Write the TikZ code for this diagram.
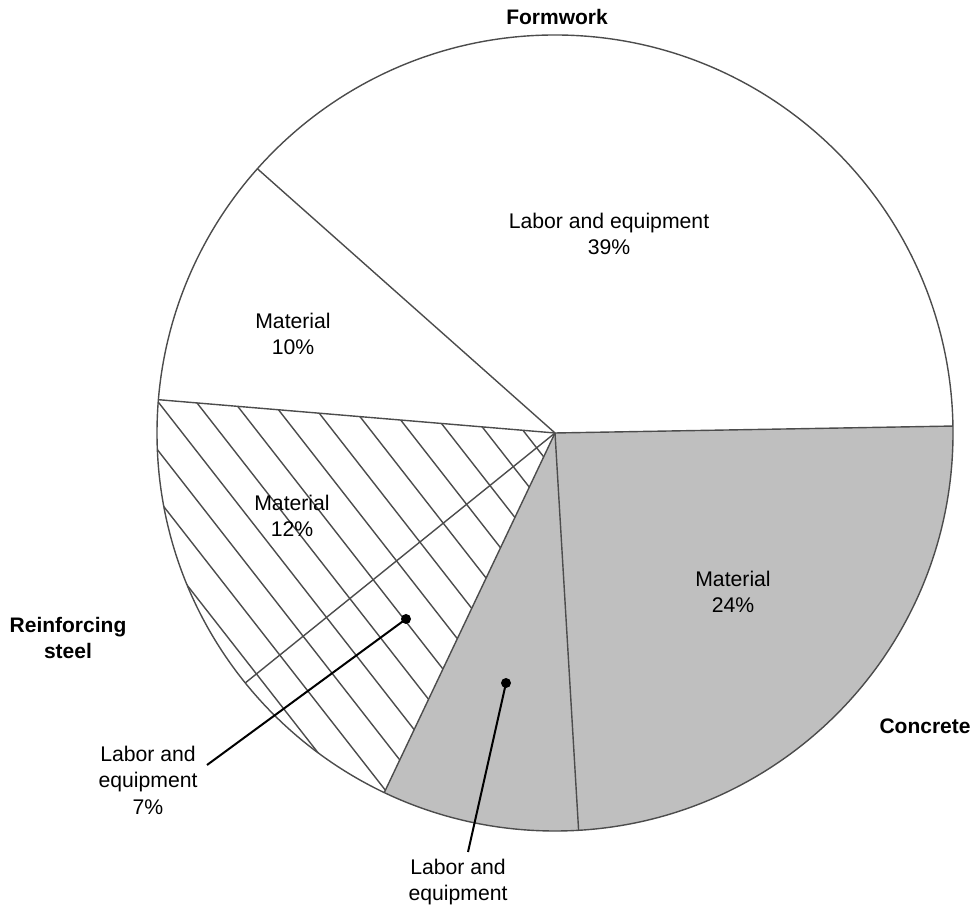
\documentclass[tikz,border=0pt]{standalone}
\usepackage{fontspec}
\setmainfont{Liberation Sans}
\begin{document}
\begin{tikzpicture}[x=0.5pt,y=0.5pt,
        rim/.style={draw=black!70, line width=0.7pt},
        hatchline/.style={draw=black!70, line width=0.7pt},
        slicetext/.style={align=center, font=\fontsize{10.6}{13.3}\selectfont},
        groupname/.style={align=center, font=\fontsize{10.5}{13.3}\selectfont\bfseries},
        leader/.style={draw=black, line width=1pt},
        tipdot/.style={circle, fill=black, inner sep=0pt, minimum size=5pt}]
    \useasboundingbox (0,0) rectangle (977,908);
    \coordinate (centre) at (555,475);
    % concrete slices
    \fill[gray!50] (centre) -- +(244.6:199pt) arc[start angle=244.6, end angle=361, radius=199pt] -- cycle;
    % reinforcing steel hatching
    \begin{scope}
        \clip (centre) -- +(175.2:199pt) arc[start angle=175.2, end angle=244.6, radius=199pt] -- cycle;
        \foreach \k in {-14,...,0}
            \draw[hatchline] (centre) ++(38:{(15*\k+3.2)*1pt}) ++(128:250pt) -- ++(-52:500pt);
    \end{scope}
    \foreach \a in {1,138.4,175.2,218.9,244.6,273.4}
        \draw[rim] (centre) -- +(\a:199pt);
    \draw[rim] (centre) circle[radius=199pt];
    % slice texts
    \node[slicetext] (formlabor) at (609,674) {Labor and equipment\\39\%};
    \node[slicetext] (formmat) at (293,574) {Material\\10\%};
    \node[slicetext] (steelmat) at (292,392) {Material\\12\%};
    \node[slicetext] (concmat) at (733,316) {Material\\24\%};
    \node[slicetext] (steellabor) at (148,128) {Labor and\\equipment\\7\%};
    \node[slicetext] (conclabor) at (458,26) {Labor and\\equipment};
    \node[groupname] (formwork) at (557,891) {Formwork};
    \node[groupname] (steel) at (68,270) {Reinforcing\\steel};
    \node[groupname] (concrete) at (925,182) {Concrete};
    % leaders
    \node[tipdot] (steeldot) at (406,289) {};
    \node[tipdot] (concdot) at (506,225) {};
    \coordinate (steeltip) at (207,143);
    \coordinate (conctip) at (468,56);
    \draw[leader] (steeldot.center) -- (steeltip);
    \draw[leader] (concdot.center) -- (conctip);
\end{tikzpicture}
\end{document}
